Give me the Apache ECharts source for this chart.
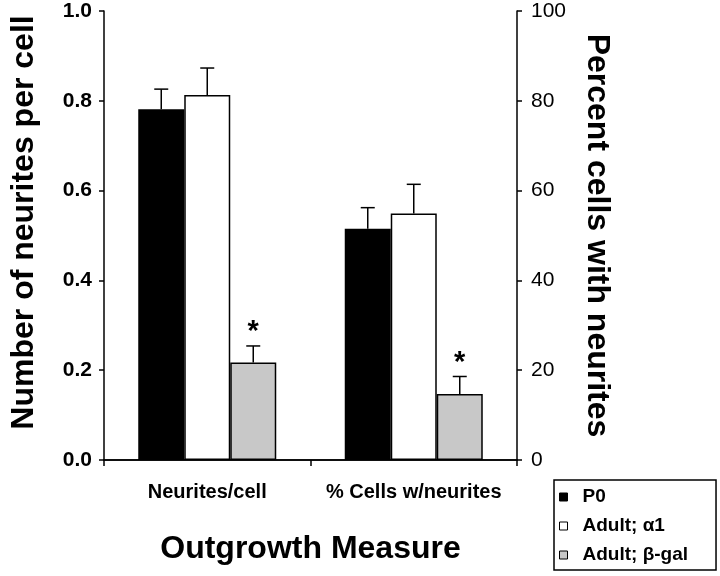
<!DOCTYPE html>
<html>
<head>
<meta charset="utf-8">
<script src="https://cdn.jsdelivr.net/npm/echarts@6/dist/echarts.min.js"></script>
<style>
html,body{margin:0;padding:0;background:#fff;}
#chart{width:720px;height:576px;}
</style>
</head>
<body>
<div id="chart"></div>
<script>
// ---- data ----
const categories = ['Neurites/cell', '% Cells w/neurites'];
const seriesNames = ['P0', 'Adult; α1', 'Adult; β-gal'];
const neuritesPerCell = [0.781, 0.813, 0.217];
const neuritesPerCellErr = [0.045, 0.060, 0.037];
const percentCells = [51.5, 54.9, 14.7];
const percentCellsErr = [4.7, 6.5, 3.9];
const significant = [false, false, true];
const leftTicks = [0, 0.2, 0.4, 0.6, 0.8, 1.0];
const rightTicks = [0, 20, 40, 60, 80, 100];

// ---- styles ----
const FONT = 'Liberation Sans, Arial, Helvetica, sans-serif';
const colors = ['#000000', '#ffffff', '#c8c8c8'];
const BAR_W = 46;

const chart = echarts.init(document.getElementById('chart'), null, {renderer: 'canvas'});

const series = [];
seriesNames.forEach(function (name, i) {
  series.push({
    name: name, type: 'bar', xAxisIndex: 0, yAxisIndex: 0,
    barWidth: BAR_W, barGap: 0,
    itemStyle: {color: colors[i], borderColor: '#000', borderWidth: 1.5},
    data: [neuritesPerCell[i], '-']
  });
});
seriesNames.forEach(function (name, i) {
  series.push({
    name: name, type: 'bar', xAxisIndex: 1, yAxisIndex: 1,
    barWidth: BAR_W, barGap: 0,
    itemStyle: {color: colors[i], borderColor: '#000', borderWidth: 1.5},
    data: ['-', percentCells[i]]
  });
});

function errRender(params, api) {
  const cat = api.value(0);
  const top = api.coord([cat, api.value(2)]);
  const base = api.coord([cat, api.value(1)]);
  const off = (api.value(3) - 1) * BAR_W;
  const x = top[0] + off;
  const children = [
    {type: 'line', shape: {x1: x, y1: base[1], x2: x, y2: top[1]}, style: {stroke: '#000', lineWidth: 1.5}},
    {type: 'line', shape: {x1: x - 7, y1: top[1], x2: x + 7, y2: top[1]}, style: {stroke: '#000', lineWidth: 1.5}}
  ];
  if (api.value(4)) {
    children.push({type: 'text', style: {text: '*', x: x, y: top[1] + 1, align: 'center', verticalAlign: 'bottom',
      font: 'bold 29px ' + FONT, fill: '#000'}});
  }
  return {type: 'group', children: children};
}

series.push({
  type: 'custom', xAxisIndex: 0, yAxisIndex: 0, renderItem: errRender, z: 5, silent: true,
  data: neuritesPerCell.map(function (v, i) { return [0, v, v + neuritesPerCellErr[i], i, significant[i] ? 1 : 0]; })
});
series.push({
  type: 'custom', xAxisIndex: 1, yAxisIndex: 1, renderItem: errRender, z: 5, silent: true,
  data: percentCells.map(function (v, i) { return [1, v, v + percentCellsErr[i], i, significant[i] ? 1 : 0]; })
});

const axisLine = {show: true, lineStyle: {color: '#000', width: 1.5}};

chart.setOption({
  animation: false,
  backgroundColor: '#fff',
  grid: {left: 100, right: 203, top: 11, bottom: 116, containLabel: false},
  legend: {
    data: seriesNames, orient: 'vertical', left: 554, top: 480,
    padding: [7, 28, 5, 5], itemGap: 9, itemWidth: 8, itemHeight: 8,
    borderColor: '#000', borderWidth: 1.5,
    icon: 'rect',
    textStyle: {fontFamily: FONT, fontWeight: 'bold', fontSize: 19, color: '#000', lineHeight: 20, padding: [0, 0, 0, 10]},
    itemStyle: {borderColor: '#000', borderWidth: 1}
  },
  xAxis: [{
    type: 'category', data: categories, position: 'bottom', boundaryGap: true,
    axisLine: axisLine,
    axisTick: {show: true, interval: 0, length: 6, lineStyle: {color: '#000', width: 1.5}},
    axisLabel: {interval: 0, hideOverlap: false, fontFamily: FONT, fontWeight: 'bold', fontSize: 20, color: '#000', margin: 22},
    name: 'Outgrowth Measure', nameLocation: 'middle', nameGap: 73,
    nameTextStyle: {fontFamily: FONT, fontWeight: 'bold', fontSize: 32, color: '#000'}
  }, {
    type: 'category', data: categories, position: 'top', boundaryGap: true,
    axisLine: axisLine, axisTick: {show: false}, axisLabel: {show: false}
  }],
  yAxis: [{
    type: 'value', position: 'left', min: 0, max: 1, interval: 0.2,
    axisLine: axisLine,
    axisTick: {show: true, length: 5, lineStyle: {color: '#000', width: 1.5}},
    splitLine: {show: false},
    axisLabel: {fontFamily: FONT, fontWeight: 'bold', fontSize: 21, color: '#000', margin: 12,
      formatter: function (v) { return v.toFixed(1); }},
    name: 'Number of neurites per cell', nameLocation: 'middle', nameGap: 64,
    nameTextStyle: {fontFamily: FONT, fontWeight: 'bold', fontSize: 32, color: '#000', padding: [0, 0, 0, 26]}
  }, {
    type: 'value', position: 'right', min: 0, max: 100, interval: 20,
    axisLine: axisLine,
    axisTick: {show: true, length: 5, lineStyle: {color: '#000', width: 1.5}},
    splitLine: {show: false},
    axisLabel: {fontFamily: FONT, fontSize: 21, color: '#000', margin: 14},
    name: 'Percent cells with neurites', nameLocation: 'middle', nameGap: 64, nameRotate: -90,
    nameTextStyle: {fontFamily: FONT, fontWeight: 'bold', fontSize: 32, color: '#000'}
  }],
  series: series
});
</script>
</body>
</html>
